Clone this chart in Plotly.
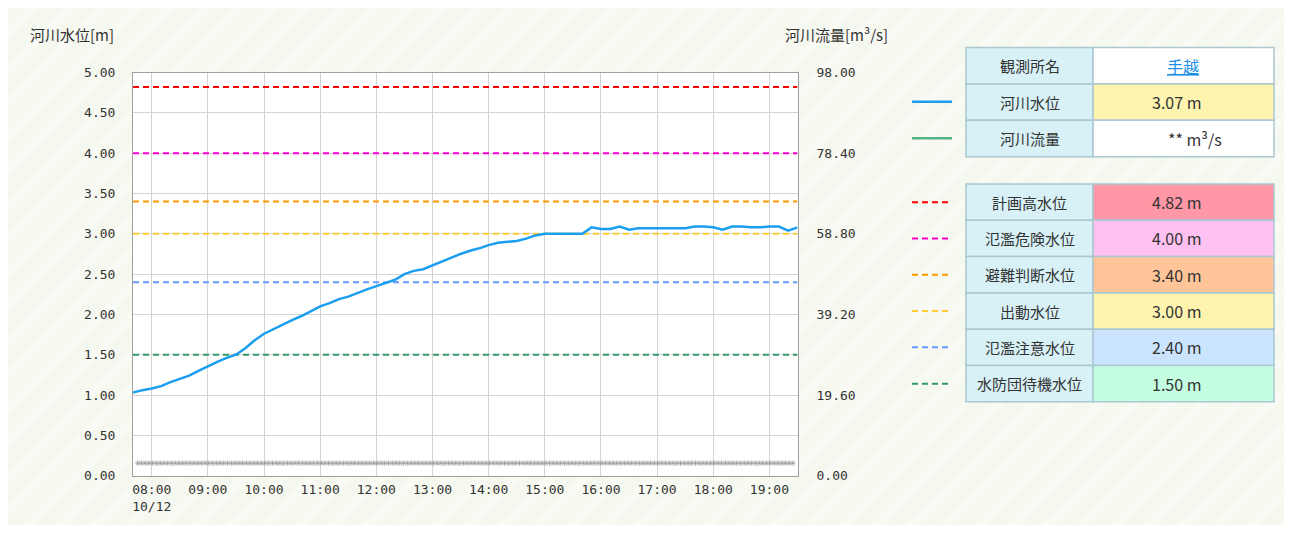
import pandas as pd
import plotly.graph_objects as go

# ---------------- data ----------------
start_time = "2024-10-12 07:40"
end_time = "2024-10-12 19:30"
level_times = pd.date_range(start_time, end_time, freq="10min")
water_level = [
    1.03, 1.06,
    1.08, 1.11, 1.16, 1.20, 1.24, 1.30,
    1.36, 1.41, 1.46, 1.50, 1.58, 1.68,
    1.76, 1.82, 1.88, 1.93, 1.98, 2.04,
    2.10, 2.14, 2.19, 2.22, 2.27, 2.31,
    2.35, 2.39, 2.43, 2.50, 2.54, 2.56,
    2.61, 2.66, 2.70, 2.75, 2.79, 2.82,
    2.86, 2.89, 2.90, 2.91, 2.94, 2.98,
    3.00, 3.00, 3.00, 3.00, 3.00, 3.08,
    3.06, 3.06, 3.09, 3.05, 3.07, 3.07,
    3.07, 3.07, 3.07, 3.07, 3.09, 3.09,
    3.08, 3.05, 3.09, 3.09, 3.08, 3.08,
    3.09, 3.09, 3.04, 3.08,
]
# flow is missing ("**") -> drawn as asterisks
flow_missing_times = pd.date_range("2024-10-12 07:45", "2024-10-12 19:28", freq="4min")

hour_ticks = pd.date_range("2024-10-12 08:00", "2024-10-12 19:00", freq="1h")
hour_labels = ["08:00<br>10/12", "09:00", "10:00", "11:00", "12:00", "13:00",
               "14:00", "15:00", "16:00", "17:00", "18:00", "19:00"]

threshold_names = ["計画高水位", "氾濫危険水位", "避難判断水位", "出動水位", "氾濫注意水位", "水防団待機水位"]
threshold_values = [4.82, 4.00, 3.40, 3.00, 2.40, 1.50]
threshold_colors = ["#ff0000", "#ff00cc", "#ff9900", "#ffcc33", "#6699ff", "#339966"]
threshold_fills = ["#ff97a7", "#ffc1f1", "#ffc598", "#fff3b0", "#c9e4fc", "#c4fde0"]

station_name = "手越"
current_level_text = "3.07 m"
current_flow_text = "** m³/s"

left_ticks = [0.0, 0.5, 1.0, 1.5, 2.0, 2.5, 3.0, 3.5, 4.0, 4.5, 5.0]
right_ticks = [0.0, 19.6, 39.2, 58.8, 78.4, 98.0]

# ---------------- layout helpers ----------------
W, H = 1276, 517
OFF = 8  # body margin of the page


def px(x):
    return (x - OFF) / W


def py(y):
    return 1 - (y - OFF) / H


mono = "DejaVu Sans Mono"
jp = "Noto Sans CJK JP"
txt = "#333333"

fig = go.Figure()

# threshold dashed lines
for v, c in zip(threshold_values, threshold_colors):
    fig.add_trace(go.Scatter(
        x=[pd.Timestamp(start_time), pd.Timestamp(end_time)], y=[v, v],
        mode="lines", line=dict(color=c, width=2, dash="6px,4px"),
        hoverinfo="skip", showlegend=False))

# water level
fig.add_trace(go.Scatter(
    x=level_times, y=water_level, mode="lines",
    line=dict(color="#1a9ef0", width=2.5),
    name="河川水位", showlegend=False))

# missing flow asterisks
fig.add_trace(go.Scatter(
    x=flow_missing_times, y=[0.155] * len(flow_missing_times), mode="markers",
    marker=dict(symbol="asterisk-open", size=4.6, color="#939393",
                line=dict(color="#939393", width=0.7)),
    hoverinfo="skip", showlegend=False, yaxis="y"))

# invisible flow trace for the right axis
fig.add_trace(go.Scatter(x=[pd.Timestamp(start_time)], y=[None], yaxis="y2",
                         mode="lines", showlegend=False, hoverinfo="skip"))

plot_l, plot_r, plot_t, plot_b = 133, 797.5, 72.6, 475.6

fig.update_layout(
    width=W, height=H, autosize=False,
    margin=dict(l=0, r=0, t=0, b=0, pad=0, autoexpand=False),
    paper_bgcolor="#f5f8ee", plot_bgcolor="#ffffff",
    font=dict(family=mono, size=13, color=txt),
    xaxis=dict(
        domain=[px(plot_l), px(plot_r)], automargin=False,
        type="date", range=[start_time, end_time],
        tickvals=hour_ticks, ticktext=hour_labels,
        showgrid=True, gridcolor="#d4d4d4", gridwidth=1,
        showline=True, linecolor="#a0a0a0", linewidth=1, mirror=True,
        ticks="", zeroline=False, ticklabelstandoff=2,
        tickfont=dict(family=mono, size=13, color=txt),
    ),
    yaxis=dict(
        domain=[py(plot_b), py(plot_t)], automargin=False,
        range=[0, 5], tickvals=left_ticks, tickformat=".2f",
        showgrid=True, gridcolor="#d4d4d4", gridwidth=1,
        showline=True, linecolor="#a0a0a0", linewidth=1, mirror=True,
        ticks="", zeroline=False, ticklabelstandoff=14,
        tickfont=dict(family=mono, size=13, color=txt),
    ),
    yaxis2=dict(
        overlaying="y", side="right", range=[0, 98], automargin=False,
        tickvals=right_ticks, tickformat=".2f",
        showgrid=False, zeroline=False, showline=False, ticks="",
        ticklabelstandoff=18,
        tickfont=dict(family=mono, size=13, color=txt),
    ),
)

annotations = []
shapes = []

# faint diagonal background stripes (decoration)
for k in range(-560, 1320, 34):
    shapes.append(dict(type="line", xref="paper", yref="paper", layer="below",
                       x0=px(k), y0=py(535), x1=px(k + 535), y1=py(0),
                       line=dict(color="#f8faf3", width=9)))
# white plot area above the stripes
shapes.append(dict(type="rect", xref="x domain", yref="y domain", layer="below",
                   x0=0, x1=1, y0=0, y1=1, fillcolor="#ffffff", line=dict(width=0)))

# axis titles
annotations.append(dict(text="河川水位[m]", x=px(28), y=py(35), xref="paper", yref="paper",
                        xanchor="left", yanchor="middle", showarrow=False,
                        font=dict(family=jp, size=15, color=txt)))
annotations.append(dict(text="河川流量[m³/s]", x=px(783), y=py(35), xref="paper", yref="paper",
                        xanchor="left", yanchor="middle", showarrow=False,
                        font=dict(family=jp, size=15, color=txt)))

# tables
col_a, col_b, col_c = 966, 1093, 1274
border = "#a9c8d2"
label_fill = "#d8f1f7"


def cell(x0, x1, y0, y1, fill):
    shapes.append(dict(type="rect", xref="paper", yref="paper",
                       x0=px(x0), x1=px(x1), y0=py(y1), y1=py(y0),
                       fillcolor=fill, line=dict(color=border, width=1.5), layer="above"))


def label(text, x, y, color=txt, size=15, family=jp):
    annotations.append(dict(text=text, x=px(x), y=py(y), xref="paper", yref="paper",
                            xanchor="center", yanchor="middle", showarrow=False,
                            font=dict(family=family, size=size, color=color)))


top_rows = [47.5, 84, 120.3, 156.7]
top_labels = ["観測所名", "河川水位", "河川流量"]
top_values = ["<u>" + station_name + "</u>", current_level_text, current_flow_text]
top_fills = ["#ffffff", "#fff3b0", "#ffffff"]
top_value_x = [1183, 1177, 1195]
top_value_colors = ["#1a8fe6", txt, txt]
for i in range(3):
    y0, y1 = top_rows[i], top_rows[i + 1]
    cell(col_a, col_b, y0, y1, label_fill)
    cell(col_b, col_c, y0, y1, top_fills[i])
    label(top_labels[i], (col_a + col_b) / 2, (y0 + y1) / 2)
    label(top_values[i], top_value_x[i], (y0 + y1) / 2, color=top_value_colors[i], size=16)

# legend lines for top table
shapes.append(dict(type="line", xref="paper", yref="paper", x0=px(912), x1=px(952),
                   y0=py(101.7), y1=py(101.7), line=dict(color="#1a9ef0", width=2.5)))
shapes.append(dict(type="line", xref="paper", yref="paper", x0=px(912), x1=px(952),
                   y0=py(138.3), y1=py(138.3), line=dict(color="#55b283", width=2.5)))

bot_top = 184
row_h = 36.3
for i, (name, v, c, f) in enumerate(zip(threshold_names, threshold_values, threshold_colors, threshold_fills)):
    y0 = bot_top + i * row_h
    y1 = y0 + row_h
    cell(col_a, col_b, y0, y1, label_fill)
    cell(col_b, col_c, y0, y1, f)
    label(name, (col_a + col_b) / 2, (y0 + y1) / 2)
    label(f"{v:.2f} m", 1177, (y0 + y1) / 2, size=16)
    shapes.append(dict(type="line", xref="paper", yref="paper", x0=px(912), x1=px(952),
                       y0=py((y0 + y1) / 2), y1=py((y0 + y1) / 2),
                       line=dict(color=c, width=2, dash="6px,4px")))

fig.update_layout(annotations=annotations, shapes=shapes)

fig.write_html("out.html")
